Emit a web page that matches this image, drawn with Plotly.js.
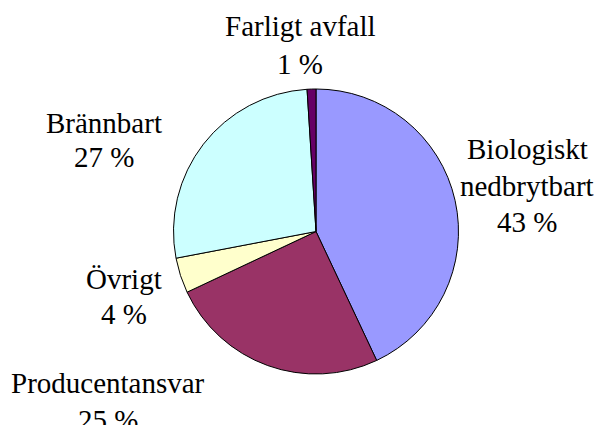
<!DOCTYPE html>
<html>
<head>
<meta charset="utf-8">
<script src="https://cdn.plot.ly/plotly-3.0.1.min.js"></script>
<style>
html,body{margin:0;padding:0;background:#fff;}
#chart{width:598px;height:425px;}
</style>
</head>
<body>
<div id="chart"></div>
<script>
const categories = ["Biologiskt nedbrytbart", "Producentansvar", "Övrigt", "Brännbart", "Farligt avfall"];
const values = [43, 25, 4, 27, 1];
const colors = ["#9999FF", "#993366", "#FFFFCC", "#CCFFFF", "#660066"];
const labelLines = [["Biologiskt", "nedbrytbart"], ["Producentansvar"], ["Övrigt"], ["Brännbart"], ["Farligt avfall"]];
// label layout: centre x and baseline of each line, in pixels
const labelX = [527, 108, 124, 104, 300];
const labelBaselines = [[158, 195, 231], [392, 429], [288, 323], [132, 166], [35, 73]];

const W = 598, H = 425;
const FS = 29;
const FAMILY = "Times New Roman";

const annotations = [];
categories.forEach((c, i) => {
  const lines = labelLines[i].concat([values[i] + " %"]);
  lines.forEach((t, j) => {
    annotations.push({
      text: t,
      x: labelX[i] / W, y: 1 - (labelBaselines[i][j] - 0.32 * FS) / H,
      xref: "paper", yref: "paper", xanchor: "center", yanchor: "middle",
      showarrow: false, align: "center",
      font: {family: FAMILY, size: FS, color: "#000"}
    });
  });
});

Plotly.newPlot("chart", [{
  type: "pie",
  labels: categories,
  values: values,
  sort: false,
  direction: "clockwise",
  rotation: 0,
  marker: {colors: colors, line: {color: "#000", width: 1}},
  textinfo: "none",
  textfont: {family: FAMILY},
  hoverinfo: "label+percent",
  domain: {x: [173 / W, 459 / W], y: [1 - 374 / H, 1 - 89 / H]}
}], {
  width: W, height: H,
  margin: {l: 0, r: 0, t: 0, b: 0},
  paper_bgcolor: "#fff",
  showlegend: false,
  font: {family: FAMILY, size: FS, color: "#000"},
  annotations: annotations
}, {staticPlot: true});
</script>
</body>
</html>
